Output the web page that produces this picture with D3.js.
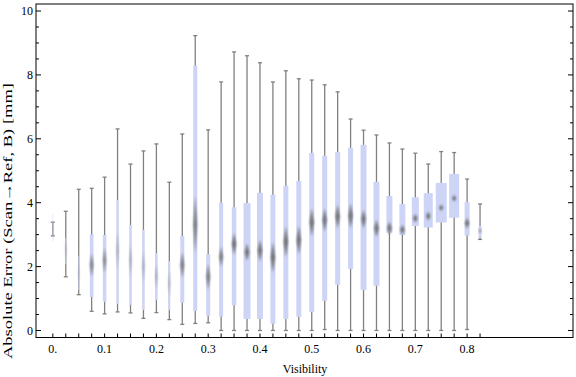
<!DOCTYPE html>
<html>
<head>
<meta charset="utf-8">
<script src="https://cdn.jsdelivr.net/npm/d3@7"></script>
<style>
  body { margin: 0; background: #fff; }
  text { font-family: "Liberation Serif", "DejaVu Serif", serif; fill: #000; }
</style>
</head>
<body>
<svg id="chart" width="576" height="377"></svg>
<script>

const visibility = [0, 0.025, 0.05, 0.075, 0.1, 0.125, 0.15, 0.175, 0.2, 0.225, 0.25, 0.275,
  0.3, 0.325, 0.35, 0.375, 0.4, 0.425, 0.45, 0.475, 0.5, 0.525, 0.55, 0.575,
  0.6, 0.625, 0.65, 0.675, 0.7, 0.725, 0.75, 0.775, 0.8, 0.825]

const mins = [2.96, 1.68, 1.12, 0.60, 0.52, 0.58, 0.55, 0.38, 0.56, 0.34, 0.19, 0.22,
  0.24, 0, 0, 0, 0, 0, 0, 0, 0, 0.03, 0, 0,
  0, 0, 0, 0, 0, 0, 0, 0, 0.03, 2.85]

const q1s = [2.78, 2.08, 1.26, 1.05, 0.90, 0.83, 0.80, 0.64, 0.95, 0.64, 0.87, 0.61,
  0.46, 0.43, 0.79, 0.36, 0.36, 0.21, 0.36, 0.43, 0.58, 0.93, 1.43, 1.93,
  1.27, 1.40, 3.06, 2.99, 3.27, 3.22, 3.38, 3.53, 2.97, 2.91]

const medians = [3.2, 2.52, 1.8, 2.05, 2.2, 2.5, 2.2, 2.0, 1.7, 1.48, 2.05, 3.32,
  1.68, 2.31, 2.71, 2.45, 2.50, 2.29, 2.78, 2.83, 3.39, 3.46, 3.57, 3.59,
  3.49, 3.20, 3.20, 3.15, 3.51, 3.58, 3.84, 4.14, 3.36, 3.12]

const q3s = [3.65, 2.89, 2.34, 3.01, 2.99, 4.08, 3.30, 3.15, 2.42, 2.17, 2.96, 8.29,
  2.39, 4.0, 3.86, 3.99, 4.31, 4.25, 4.53, 4.68, 5.56, 5.47, 5.59, 5.72,
  5.81, 4.65, 4.21, 3.96, 4.17, 4.30, 4.62, 4.90, 4.02, 3.27]

const maxs = [3.39, 3.73, 4.42, 4.45, 4.80, 6.31, 5.21, 5.62, 5.84, 4.64, 6.15, 9.23,
  6.28, 7.78, 8.72, 8.60, 8.38, 7.78, 8.13, 7.88, 7.84, 7.69, 7.47, 6.62,
  6.27, 6.12, 5.87, 5.68, 5.55, 5.21, 5.60, 5.57, 4.74, 3.96]

// median confidence half-range (drawn as the blurred spindle)
const medianCI = [0.1, 0.3, 0.3, 0.37, 0.4, 0.6, 0.5, 0.5, 0.4, 0.4, 0.4, 0.9,
  0.4, 0.31, 0.34, 0.27, 0.34, 0.48, 0.48, 0.45, 0.44, 0.37, 0.37, 0.39,
  0.3, 0.27, 0.21, 0.16, 0.14, 0.14, 0.1, 0.1, 0.17, 0.08]

// relative weight of each bin, sets box width
const weights = [0.7, 1.5, 1.3, 3.7, 3.5, 2.3, 2.3, 2.3, 2.3, 2, 4, 4,
  4, 4, 4.5, 7, 6, 5, 5, 5, 5, 5, 5, 5,
  6, 6, 6, 6, 7, 9, 11, 10, 5, 3]

const xTickLabels = ['0.', '0.1', '0.2', '0.3', '0.4', '0.5', '0.6', '0.7', '0.8']
const yTickValues = [0, 2, 4, 6, 8, 10]

const xLabel = 'Visibility'
const yLabel = 'Absolute Error (Scan\u2192Ref, B) [mm]'

const data = visibility.map((v, i) => ({
  v, min: mins[i], q1: q1s[i], med: medians[i], q3: q3s[i], max: maxs[i],
  ci: medianCI[i], w: weights[i]
}))

const frame = {left: 36, right: 573, top: 4, bottom: 337.5}

const svg = d3.select('#chart')

const x = d3.scaleLinear().domain([-0.0325, 1.0045]).range([frame.left, frame.right])
const y = d3.scaleLinear().domain([-0.22, 10.22]).range([frame.bottom, frame.top])
const wScale = d3.scaleLinear().domain([0, 1]).range([0, 1])

const defs = svg.append('defs')
defs.append('filter').attr('id', 'blur')
  .attr('x', '-100%').attr('y', '-50%').attr('width', '300%').attr('height', '200%')
  .append('feGaussianBlur').attr('stdDeviation', 0.8)

const plot = svg.append('g')

// whiskers
plot.append('g')
  .attr('stroke', '#808080')
  .attr('stroke-width', 1.3)
  .selectAll('line')
  .data(data)
  .join('line')
    .attr('x1', d => x(d.v)).attr('x2', d => x(d.v))
    .attr('y1', d => y(d.min)).attr('y2', d => y(d.max))

// caps
const caps = plot.append('g').attr('stroke', '#808080').attr('stroke-width', 1.3)
caps.selectAll('line.lo')
  .data(data)
  .join('line')
    .attr('class', 'lo')
    .attr('x1', d => x(d.v) - 2).attr('x2', d => x(d.v) + 2)
    .attr('y1', d => y(d.min)).attr('y2', d => y(d.min))
caps.selectAll('line.hi')
  .data(data)
  .join('line')
    .attr('class', 'hi')
    .attr('x1', d => x(d.v) - 2).attr('x2', d => x(d.v) + 2)
    .attr('y1', d => y(d.max)).attr('y2', d => y(d.max))

// boxes
plot.append('g')
  .attr('fill', '#cdd4f6')
  .selectAll('rect')
  .data(data)
  .join('rect')
    .attr('x', d => x(d.v) - wScale(d.w) / 2)
    .attr('width', d => wScale(d.w))
    .attr('y', d => y(d.q3))
    .attr('height', d => y(d.q1) - y(d.q3))
    .attr('fill-opacity', d => d.w < 2 ? 0.6 : 1)

// median spindles
plot.append('g')
  .attr('fill', '#737373')
  .attr('filter', 'url(#blur)')
  .selectAll('path')
  .data(data)
  .join('path')
    .attr('opacity', d => Math.min(1, d.w / 4.5))
    .attr('d', d => {
      const cx = x(d.v), cy = y(d.med)
      const hw = Math.min(2.2, wScale(d.w) / 2)
      const hh = Math.max(2.6, y(d.med) - y(d.med + d.ci))
      return `M${cx},${cy - hh}L${cx + hw},${cy}L${cx},${cy + hh}L${cx - hw},${cy}Z`
    })

// frame
svg.append('rect')
  .attr('x', frame.left).attr('y', frame.top)
  .attr('width', frame.right - frame.left).attr('height', frame.bottom - frame.top)
  .attr('fill', 'none').attr('stroke', '#000').attr('stroke-width', 1)

// y ticks, left and right, pointing inward
const yMinor = d3.range(0, 10.01, 0.5)
const yt = svg.append('g').attr('stroke', '#000').attr('stroke-width', 1)
yt.selectAll('line.l')
  .data(yMinor)
  .join('line')
    .attr('class', 'l')
    .attr('x1', frame.left).attr('x2', d => frame.left + (d % 2 === 0 ? 5 : 3))
    .attr('y1', d => y(d)).attr('y2', d => y(d))
yt.selectAll('line.r')
  .data(yMinor)
  .join('line')
    .attr('class', 'r')
    .attr('x1', frame.right).attr('x2', d => frame.right - (d % 2 === 0 ? 5 : 3))
    .attr('y1', d => y(d)).attr('y2', d => y(d))

svg.append('g')
  .selectAll('text')
  .data(yTickValues)
  .join('text')
    .attr('x', frame.left - 3)
    .attr('y', d => y(d))
    .attr('dy', '0.35em')
    .attr('text-anchor', 'end')
    .attr('font-size', 12)
    .text(d => d)

// x ticks at every bin
svg.append('g')
  .attr('stroke', '#000').attr('stroke-width', 1)
  .selectAll('line')
  .data(visibility)
  .join('line')
    .attr('x1', d => x(d)).attr('x2', d => x(d))
    .attr('y1', frame.bottom).attr('y2', frame.bottom - 4)

svg.append('g')
  .selectAll('text')
  .data(xTickLabels)
  .join('text')
    .attr('x', (d, i) => x(i / 10))
    .attr('y', 353)
    .attr('text-anchor', 'middle')
    .attr('font-size', 12)
    .text(d => d)

svg.append('text')
  .attr('x', 305).attr('y', 373)
  .attr('text-anchor', 'middle')
  .attr('font-size', 12)
  .text(xLabel)

svg.append('text')
  .attr('transform', 'translate(12,221) rotate(-90)')
  .attr('text-anchor', 'middle')
  .attr('font-size', 13)
  .attr('textLength', 276)
  .attr('lengthAdjust', 'spacingAndGlyphs')
  .text(yLabel)

</script>
</body>
</html>
